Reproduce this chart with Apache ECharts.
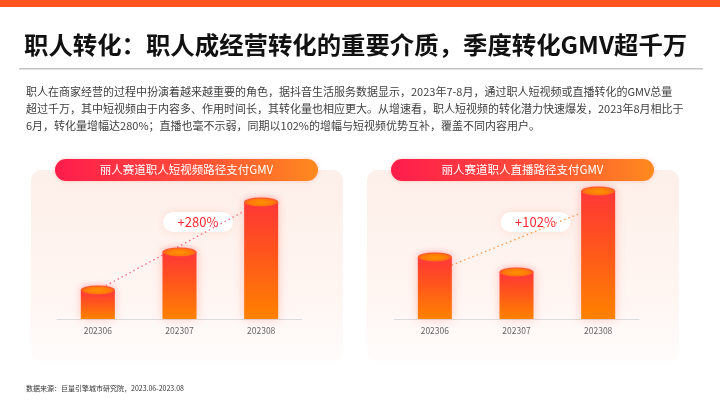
<!DOCTYPE html>
<html>
<head>
<meta charset="utf-8">
<script src="https://cdn.jsdelivr.net/npm/echarts@6/dist/echarts.min.js"></script>
<style>
html,body{margin:0;padding:0;background:#fff;}
#c{width:720px;height:405px;}
</style>
</head>
<body>
<div id="c"></div>
<script>
// ---- data ----
const categories = ['202306', '202307', '202308'];
const videoValues = [29, 67, 117];      // 丽人赛道职人短视频路径支付GMV (relative)
const liveValues = [62, 47, 128];       // 丽人赛道职人直播路径支付GMV (relative)
const videoTrend = [29, null, 117];
const liveTrend = [47, null, 113];
const videoGrowth = '+280%';
const liveGrowth = '+102%';
const titleText = '职人转化：职人成经营转化的重要介质，季度转化GMV超千万';
const paragraph = [
  '职人在商家经营的过程中扮演着越来越重要的角色，据抖音生活服务数据显示，2023年7-8月，通过职人短视频或直播转化的GMV总量',
  '超过千万，其中短视频由于内容多、作用时间长，其转化量也相应更大。从增速看，职人短视频的转化潜力快速爆发，2023年8月相比于',
  '6月，转化量增幅达280%；直播也毫不示弱，同期以102%的增幅与短视频优势互补，覆盖不同内容用户。'
];
const leftHeader = '丽人赛道职人短视频路径支付GMV';
const rightHeader = '丽人赛道职人直播路径支付GMV';
const sourceText = '数据来源：巨量引擎城市研究院，2023.06-2023.08';

const FONT = '"Noto Sans CJK SC", "Noto Sans", sans-serif';
const chart = echarts.init(document.getElementById('c'), null, {renderer: 'canvas'});

const barGrad = new echarts.graphic.LinearGradient(0, 0, 0, 1, [
  {offset: 0, color: '#ff3636'},
  {offset: 0.45, color: '#ff561c'},
  {offset: 1, color: '#ff8200'}
]);
const capGrad = new echarts.graphic.RadialGradient(0.5, 0.55, 0.6, [
  {offset: 0, color: '#ff9200'},
  {offset: 0.6, color: '#ff7a0a'},
  {offset: 1, color: '#ff3d3a'}
]);
const pillGrad = new echarts.graphic.LinearGradient(0, 0, 1, 0, [
  {offset: 0, color: '#ff1c4c'},
  {offset: 0.5, color: '#ff4a3a'},
  {offset: 1, color: '#ff8a1e'}
]);
const panelGrad = new echarts.graphic.LinearGradient(0, 0, 0, 1, [
  {offset: 0, color: '#fdefe9'},
  {offset: 0.6, color: '#fff5f1'},
  {offset: 1, color: '#fffcfb'}
]);

function panel(x) {
  return {type: 'rect', shape: {x: x, y: 170, width: 312, height: 192, r: 10}, style: {fill: panelGrad}, z: -10};
}
function header(x, text) {
  return {type: 'group', z: 5, children: [
    {type: 'rect', shape: {x: x, y: 159, width: 263, height: 22, r: 11}, style: {fill: pillGrad, shadowBlur: 4, shadowColor: 'rgba(255,80,60,0.25)'}},
    {type: 'text', style: {x: x + 131.5, y: 170, text: text, fill: '#fff', font: '11.5px ' + FONT, textAlign: 'center', textVerticalAlign: 'middle'}}
  ]};
}
function growthPill(cx, text) {
  return {type: 'group', z: 20, children: [
    {type: 'rect', shape: {x: cx - 35, y: 212, width: 70, height: 20, r: 10}, style: {fill: '#fff', shadowBlur: 8, shadowColor: 'rgba(255,120,90,0.18)'}},
    {type: 'text', style: {x: cx, y: 222, text: text, fill: '#ff2a36', font: '13px ' + FONT, textAlign: 'center', textVerticalAlign: 'middle'}}
  ]};
}

function seriesFor(idx, values, trend, trendColor) {
  return [
    {type: 'line', xAxisIndex: idx, yAxisIndex: idx, data: trend, connectNulls: true, symbol: 'none', z: 1,
      lineStyle: {type: [1.5, 3], width: 1.3, color: trendColor}, silent: true},
    {type: 'bar', xAxisIndex: idx, yAxisIndex: idx, data: values, barWidth: 34, z: 2,
      itemStyle: {color: barGrad, shadowBlur: 10, shadowColor: 'rgba(255,70,60,0.28)'}},
    {type: 'pictorialBar', xAxisIndex: idx, yAxisIndex: idx, data: values, symbol: 'circle',
      symbolSize: [34, 9], symbolPosition: 'end', symbolOffset: [0, '-50%'], z: 3,
      itemStyle: {color: capGrad, shadowBlur: 6, shadowColor: 'rgba(255,60,90,0.35)'}}
  ];
}

const xAxisBase = {
  type: 'category', data: categories,
  axisLine: {lineStyle: {color: '#dcdcdc', width: 1}},
  axisTick: {show: false},
  axisLabel: {color: '#666', fontSize: 8.5, fontFamily: FONT, margin: 8}
};
const yAxisBase = {type: 'value', min: 0, max: 130, show: false, splitLine: {show: false}};

chart.setOption({
  animation: false,
  backgroundColor: '#fff',
  grid: [
    {left: 57, width: 245, top: 189, height: 130},
    {left: 394, width: 245, top: 189, height: 130}
  ],
  xAxis: [Object.assign({gridIndex: 0}, xAxisBase), Object.assign({gridIndex: 1}, xAxisBase)],
  yAxis: [Object.assign({gridIndex: 0}, yAxisBase), Object.assign({gridIndex: 1}, yAxisBase)],
  series: [].concat(
    seriesFor(0, videoValues, videoTrend, '#ff6a86'),
    seriesFor(1, liveValues, liveTrend, '#ff9a4a')
  ),
  graphic: [
    {type: 'rect', shape: {x: 0, y: 0, width: 720, height: 7}, style: {fill: '#ff5420'}},
    {type: 'text', style: {x: 24, y: 45, text: titleText, fill: '#111', font: 'bold 24.4px ' + FONT, textVerticalAlign: 'middle'}},
    {type: 'rect', shape: {x: 19, y: 68, width: 684, height: 1.5}, style: {fill: '#c4c4c4'}},
    {type: 'text', style: {x: 26, y: 92, text: paragraph[0], fill: '#404040', font: '11px ' + FONT, textVerticalAlign: 'middle'}},
    {type: 'text', style: {x: 26, y: 109, text: paragraph[1], fill: '#404040', font: '11px ' + FONT, textVerticalAlign: 'middle'}},
    {type: 'text', style: {x: 26, y: 126, text: paragraph[2], fill: '#404040', font: '11px ' + FONT, textVerticalAlign: 'middle'}},
    panel(31),
    panel(367),
    header(55, leftHeader),
    header(391, rightHeader),
    growthPill(198, videoGrowth),
    growthPill(535.5, liveGrowth),
    {type: 'text', style: {x: 26, y: 388, text: sourceText, fill: '#333', font: '7px ' + FONT, textVerticalAlign: 'middle'}}
  ]
});
</script>
</body>
</html>
